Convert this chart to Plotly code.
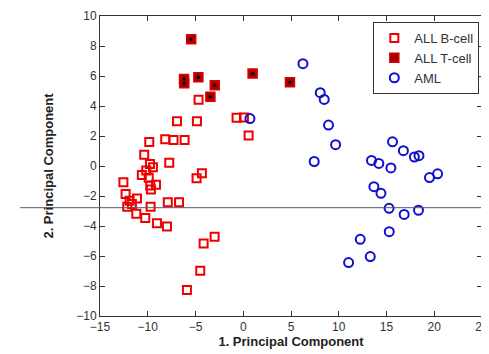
import plotly.graph_objects as go

# ALL B-cell
b_x = [-4.68, -6.94, -4.85, -9.84, -8.17, -7.3, -6.14, -10.37, -0.7, 0.07, 0.56,
       -7.75, -9.77, -9.46, -10.16, -10.62, -9.9, -12.55, -9.74, -9.14, -9.67,
       -12.32, -11.13, -11.9, -11.66, -12.15, -9.7, -11.2, -10.26, -9.04, -7.99,
       -7.9, -6.72, -4.89, -4.33, -3.0, -4.15, -4.5, -5.9]
b_y = [4.42, 2.98, 2.98, 1.6, 1.78, 1.73, 1.73, 0.75, 3.22, 3.24, 2.04,
       0.22, 0.13, -0.09, -0.3, -0.6, -0.78, -1.09, -1.3, -1.25, -1.56,
       -1.86, -2.16, -2.31, -2.53, -2.71, -2.71, -3.18, -3.47, -3.82, -4.04,
       -2.41, -2.41, -0.82, -0.49, -4.71, -5.16, -6.98, -8.27]

# ALL T-cell
t_x = [-5.45, -6.2, -6.18, -4.7, -2.98, -3.44, 0.98, 4.89]
t_y = [8.45, 5.8, 5.52, 5.91, 5.38, 4.62, 6.16, 5.58]

# AML
a_x = [0.7, 6.25, 8.06, 8.48, 8.93, 9.67, 7.43, 15.63, 16.77, 17.92, 18.4,
       13.43, 14.2, 15.46, 19.5, 20.35, 13.68, 14.42, 15.27, 16.85, 18.35,
       15.29, 12.25, 13.3, 11.03]
a_y = [3.16, 6.82, 4.89, 4.44, 2.73, 1.42, 0.3, 1.61, 1.02, 0.6, 0.69,
       0.37, 0.17, -0.13, -0.77, -0.52, -1.38, -1.82, -2.82, -3.23, -2.95,
       -4.38, -4.89, -6.04, -6.44]

x_ticks = [-15, -10, -5, 0, 5, 10, 15, 20, 25]
y_ticks = [-10, -8, -6, -4, -2, 0, 2, 4, 6, 8, 10]
line_y = -2.78

fig = go.Figure()
fig.add_trace(go.Scatter(x=b_x, y=b_y, mode="markers", name="ALL B-cell",
                         marker=dict(symbol="square-open", size=8, color="#ee0000",
                                     line=dict(width=2, color="#ee0000"))))
fig.add_trace(go.Scatter(x=t_x, y=t_y, mode="markers", name="ALL T-cell",
                         marker=dict(symbol="square", size=9, color="#a00000",
                                     line=dict(width=1.5, color="#dd0000"))))
fig.add_trace(go.Scatter(x=t_x, y=t_y, mode="markers", showlegend=False, hoverinfo="skip",
                         marker=dict(symbol="circle", size=3, color="#000000")))
fig.add_trace(go.Scatter(x=a_x, y=a_y, mode="markers", name="AML",
                         marker=dict(symbol="circle-open", size=9, color="#1010cc",
                                     line=dict(width=2, color="#1010cc"))))

fig.add_shape(type="line", xref="paper", yref="paper",
              x0=-0.209, x1=1.02, y0=(line_y + 10) / 20, y1=(line_y + 10) / 20,
              line=dict(color="#555570", width=1))

axis_common = dict(showline=True, linecolor="#333333", linewidth=1, mirror="allticks",
                   ticks="inside", ticklen=5, tickcolor="#333333", showgrid=False,
                   zeroline=False, automargin=False,
                   tickfont=dict(family="Liberation Sans", size=12, color="#333333"))

fig.update_layout(
    width=481, height=346,
    margin=dict(l=92, r=7, t=8, b=38),
    paper_bgcolor="white", plot_bgcolor="white",
    font=dict(family="Liberation Sans", color="#222222"),
    xaxis=dict(range=[-15, 25], tickvals=x_ticks, ticktext=[str(v).replace("-", "\u2212") for v in x_ticks],
               title=dict(text="<b>1. Principal Component</b>", font=dict(size=13, color="#222222"), standoff=2),
               **axis_common),
    yaxis=dict(range=[-10, 10], tickvals=y_ticks, ticktext=[str(v).replace("-", "\u2212") for v in y_ticks],
               title=dict(text="<b>2. Principal Component</b>", font=dict(size=13, color="#222222"), standoff=19),
               **axis_common),
    legend=dict(x=0.993, y=0.98, xanchor="right", yanchor="top", bordercolor="#333333", borderwidth=1,
                bgcolor="white", font=dict(size=13, color="#333333"), tracegroupgap=0, itemwidth=30),
    showlegend=True,
)

fig.write_html("out.html")
